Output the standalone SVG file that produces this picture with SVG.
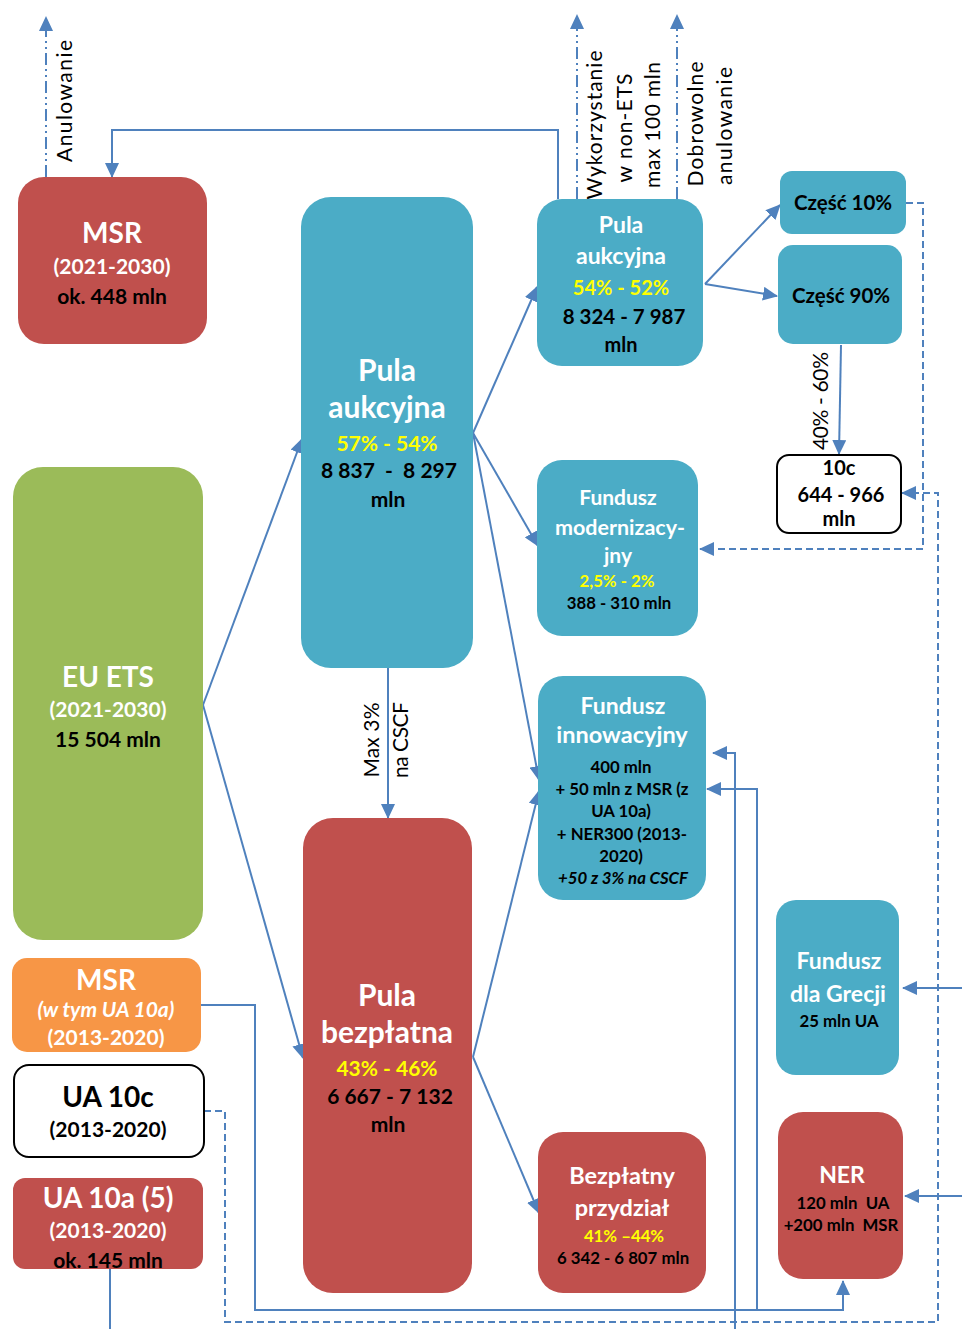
<svg xmlns="http://www.w3.org/2000/svg" width="962" height="1329" viewBox="0 0 962 1329">
<defs>
<style>
text{font-family:Lato,"Liberation Sans",sans-serif;font-weight:bold;text-anchor:middle;white-space:pre}
.w{fill:#fff}.k{fill:#000}.y{fill:#FFFF00}
.lbl{font-weight:normal;fill:#000}
.red{fill:#C0504D}.blue{fill:#4BACC6}.green{fill:#9BBB59}.orange{fill:#F79646}
.wb{fill:#fff;stroke:#000;stroke-width:2}
.c{fill:none;stroke:#4F81BD;stroke-width:2}
.d{stroke-dasharray:7 4}
.dd{stroke-dasharray:12 4 2 4 2 4}
.a{marker-end:url(#ah)}
.s{font-size:16.8px}
</style>
<marker id="ah" viewBox="0 0 15 14" refX="14" refY="7" markerWidth="15" markerHeight="14" markerUnits="userSpaceOnUse" orient="auto">
<path d="M0,0 L15,7 L0,14 z" fill="#4F81BD"/>
</marker>
</defs>

<g id="connectors">
<path class="c a" d="M203,705 L302,439"/>
<path class="c a" d="M203,705 L303,1058"/>
<path class="c a" d="M473,433 L537,287"/>
<path class="c a" d="M473,433 L538,546"/>
<path class="c a" d="M473,433 L539,780"/>
<path class="c a" d="M388,668 L388,818"/>
<path class="c a" d="M473,1057 L539,791"/>
<path class="c a" d="M473,1057 L539,1213"/>
<path class="c a" d="M705,284 L780,205"/>
<path class="c a" d="M705,284 L777,296"/>
<path class="c a" d="M841,345 L839,454"/>
<path class="c d a" d="M906,203 H923 V549 H700"/>
<path class="c d a" d="M204,1111 H225 V1322 H938 V493 H902"/>
<path class="c a" d="M201,1005 H255 V1310 H843 V1281"/>
<path class="c a" d="M757,1310 V789 H707"/>
<path class="c a" d="M110,1269 V1345 H735 V753 H713"/>
<path class="c a" d="M962,988 H903"/>
<path class="c a" d="M962,1196 H905"/>
<path class="c a" d="M558,199 V130 H112 V177"/>
<path class="c dd a" d="M46,177 V17"/>
<path class="c dd a" d="M577,199 V15"/>
<path class="c dd a" d="M677,199 V15"/>
<text class="lbl" font-size="21" transform="translate(72,101) rotate(-90)" textLength="122" lengthAdjust="spacing">Anulowanie</text>
<text class="lbl" font-size="21" transform="translate(602,125) rotate(-90)" textLength="149" lengthAdjust="spacing">Wykorzystanie</text>
<text class="lbl" font-size="21" transform="translate(632,128) rotate(-90)" textLength="109" lengthAdjust="spacing">w non-ETS</text>
<text class="lbl" font-size="21" transform="translate(660,125) rotate(-90)" textLength="126" lengthAdjust="spacing">max 100 mln</text>
<text class="lbl" font-size="21" transform="translate(703,124) rotate(-90)" textLength="125" lengthAdjust="spacing">Dobrowolne</text>
<text class="lbl" font-size="21" transform="translate(732,126) rotate(-90)" textLength="118" lengthAdjust="spacing">anulowanie</text>
<text class="lbl" font-size="21" transform="translate(379,740) rotate(-90)" textLength="75" lengthAdjust="spacing">Max 3%</text>
<text class="lbl" font-size="21" transform="translate(408,740) rotate(-90)" textLength="76" lengthAdjust="spacing">na CSCF</text>
<text class="lbl" font-size="21" transform="translate(828,401) rotate(-90)" textLength="98" lengthAdjust="spacing">40% - 60%</text>
</g>

<g id="msr2021">
<rect class="red" x="18" y="177" width="189" height="167" rx="26"/>
<text class="w" x="112" y="243" font-size="28">MSR</text>
<text class="w" x="112" y="274" font-size="21">(2021-2030)</text>
<text class="k" x="112" y="304" font-size="21">ok. 448 mln</text>
</g>

<g id="pula-aukcyjna">
<rect class="blue" x="301" y="197" width="172" height="471" rx="30"/>
<text class="w" x="387" y="381" font-size="30">Pula</text>
<text class="w" x="387" y="418" font-size="30">aukcyjna</text>
<text class="y" x="387" y="451" font-size="21">57% - 54%</text>
<text class="k" x="389" y="478" font-size="21">8 837  -  8 297</text>
<text class="k" x="388" y="507" font-size="21">mln</text>
</g>

<g id="eu-ets">
<rect class="green" x="13" y="467" width="190" height="473" rx="30"/>
<text class="w" x="108" y="687" font-size="28">EU ETS</text>
<text class="w" x="108" y="717" font-size="21">(2021-2030)</text>
<text class="k" x="108" y="747" font-size="21">15 504 mln</text>
</g>

<g id="msr2013">
<rect class="orange" x="12" y="958" width="189" height="94" rx="15"/>
<text class="w" x="106" y="990" font-size="28">MSR</text>
<text class="w" x="106" y="1017" font-size="21" font-style="italic">(w tym UA 10a)</text>
<text class="w" x="106" y="1045" font-size="21">(2013-2020)</text>
</g>

<g id="ua10c">
<rect class="wb" x="14" y="1065" width="190" height="92" rx="15"/>
<text class="k" x="108" y="1107" font-size="28">UA 10c</text>
<text class="k" x="108" y="1137" font-size="21">(2013-2020)</text>
</g>

<g id="ua10a">
<rect class="red" x="13" y="1178" width="190" height="91" rx="12"/>
<text class="w" x="108" y="1208" font-size="28">UA 10a (5)</text>
<text class="w" x="108" y="1238" font-size="21">(2013-2020)</text>
<text class="k" x="108" y="1268" font-size="21">ok. 145 mln</text>
</g>

<g id="pula-bezplatna">
<rect class="red" x="303" y="818" width="169" height="475" rx="30"/>
<text class="w" x="387" y="1006" font-size="30">Pula</text>
<text class="w" x="387" y="1043" font-size="30">bezpłatna</text>
<text class="y" x="387" y="1076" font-size="21">43% - 46%</text>
<text class="k" x="390" y="1104" font-size="21">6 667 - 7 132</text>
<text class="k" x="388" y="1132" font-size="21">mln</text>
</g>

<g id="pula-aukcyjna-2">
<rect class="blue" x="537" y="199" width="166" height="167" rx="25"/>
<text class="w" x="621" y="233" font-size="23">Pula</text>
<text class="w" x="621" y="264" font-size="23">aukcyjna</text>
<text class="y" x="621" y="295" font-size="20">54% - 52%</text>
<text class="k" x="624" y="324" font-size="20.5">8 324 - 7 987</text>
<text class="k" x="621" y="352" font-size="20">mln</text>
</g>

<g id="czesc10">
<rect class="blue" x="780" y="171" width="126" height="63" rx="12"/>
<text class="k" x="843" y="210" font-size="20.5">Część 10%</text>
</g>

<g id="czesc90">
<rect class="blue" x="778" y="245" width="124" height="99" rx="15"/>
<text class="k" x="841" y="303" font-size="20.5">Część 90%</text>
</g>

<g id="n10c">
<rect class="wb" x="777" y="455" width="124" height="78" rx="12"/>
<text class="k" x="839" y="475" font-size="20">10c</text>
<text class="k" x="841" y="502" font-size="20">644 - 966</text>
<text class="k" x="839" y="526" font-size="20">mln</text>
</g>

<g id="fundusz-modernizacyjny">
<rect class="blue" x="537" y="460" width="161" height="176" rx="25"/>
<text class="w" x="618" y="505" font-size="21">Fundusz</text>
<text class="w" x="620" y="535" font-size="21.5">modernizacy-</text>
<text class="w" x="618" y="563" font-size="21">jny</text>
<text class="y s" x="617" y="587">2,5% - 2%</text>
<text class="k s" x="619" y="609">388 - 310 mln</text>
</g>

<g id="fundusz-innowacyjny">
<rect class="blue" x="538" y="676" width="168" height="224" rx="25"/>
<text class="w" x="623" y="714" font-size="23">Fundusz</text>
<text class="w" x="622" y="743" font-size="23.5">innowacyjny</text>
<text class="k s" x="621" y="773">400 mln</text>
<text class="k s" x="622" y="795">+ 50 mln z MSR (z</text>
<text class="k s" x="621" y="817">UA 10a)</text>
<text class="k s" x="622" y="840">+ NER300 (2013-</text>
<text class="k s" x="621" y="862">2020)</text>
<text class="k s" x="623" y="884" font-style="italic">+50 z 3% na CSCF</text>
</g>

<g id="fundusz-grecja">
<rect class="blue" x="776" y="900" width="123" height="175" rx="20"/>
<text class="w" x="839" y="969" font-size="23">Fundusz</text>
<text class="w" x="838" y="1002" font-size="23">dla Grecji</text>
<text class="k s" x="839" y="1027">25 mln UA</text>
</g>

<g id="bezplatny-przydzial">
<rect class="red" x="538" y="1132" width="168" height="161" rx="25"/>
<text class="w" x="622" y="1184" font-size="23.5">Bezpłatny</text>
<text class="w" x="622" y="1216" font-size="23.5">przydział</text>
<text class="y s" x="624" y="1242">41% –44%</text>
<text class="k s" x="623" y="1264">6 342 - 6 807 mln</text>
</g>

<g id="ner">
<rect class="red" x="778" y="1112" width="125" height="167" rx="25"/>
<text class="w" x="842" y="1183" font-size="23">NER</text>
<text class="k s" x="843" y="1209">120 mln  UA</text>
<text class="k s" x="841" y="1231">+200 mln  MSR</text>
</g>
</svg>
